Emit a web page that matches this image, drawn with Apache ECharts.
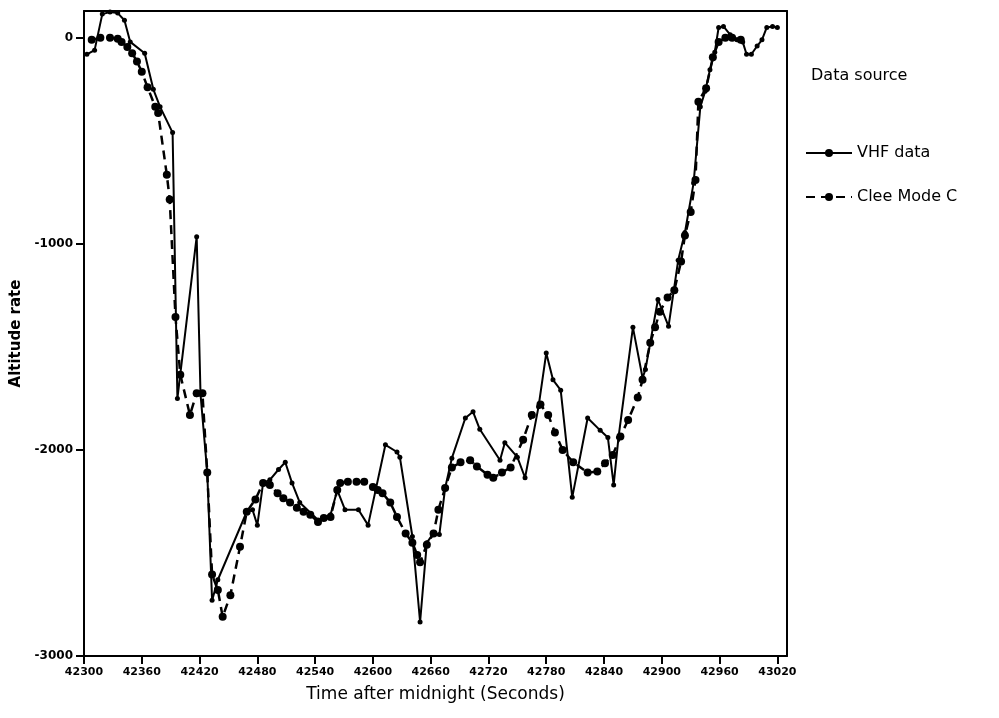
<!DOCTYPE html>
<html>
<head>
<meta charset="utf-8">
<script src="https://cdn.jsdelivr.net/npm/echarts@6/dist/echarts.min.js"></script>
<style>
html,body{margin:0;padding:0;background:#fff;}
#c{width:999px;height:718px;}
</style>
</head>
<body>
<div id="c"></div>
<script>
const xTicks = [42300,42360,42420,42480,42540,42600,42660,42720,42780,42840,42900,42960,43020];
const yTicks = [-3000,-2000,-1000,0];

const vhfTime = [42303,42311,42319,42327,42335,42342,42348,42363,42372,42379,42392,42397,42417,42421,42428,42433,42439,42469,42475,42480,42486,42493,42502,42509,42516,42524,42543,42556,42563,42571,42585,42595,42613,42625,42628,42641,42649,42656,42663,42669,42675,42682,42696,42704,42711,42732,42737,42750,42758,42772,42780,42787,42795,42807,42823,42836,42844,42850,42855,42870,42880,42883,42896,42907,42917,42924,42933,42940,42945,42950,42955,42959,42964,42971,42978,42984,42988,42993,42999,43004,43009,43015,43020];
const vhfRate = [-80,-60,115,125,120,85,-20,-75,-250,-335,-460,-1750,-965,-1730,-2110,-2730,-2630,-2300,-2290,-2365,-2160,-2145,-2095,-2060,-2160,-2255,-2340,-2315,-2195,-2290,-2290,-2365,-1975,-2010,-2035,-2420,-2835,-2450,-2405,-2410,-2185,-2040,-1845,-1815,-1900,-2050,-1965,-2035,-2135,-1790,-1530,-1660,-1710,-2230,-1845,-1905,-1940,-2170,-1940,-1405,-1650,-1610,-1270,-1400,-1080,-945,-705,-335,-260,-155,-70,50,55,15,-10,-20,-80,-80,-40,-10,50,55,50];

const cleeTime = [42308,42317,42327,42335,42339,42345,42350,42355,42360,42366,42374,42377,42386,42389,42395,42400,42410,42417,42423,42428,42433,42439,42444,42452,42462,42469,42478,42486,42493,42501,42507,42514,42521,42528,42535,42543,42549,42556,42563,42566,42574,42583,42591,42600,42605,42610,42618,42625,42634,42641,42646,42649,42656,42663,42668,42675,42682,42691,42701,42708,42719,42725,42734,42743,42756,42765,42774,42782,42789,42797,42808,42823,42833,42841,42849,42857,42865,42875,42880,42888,42893,42898,42906,42913,42920,42924,42930,42935,42938,42946,42953,42959,42966,42973,42982];
const cleeRate = [-10,0,0,-5,-20,-45,-75,-115,-165,-240,-335,-365,-665,-785,-1355,-1635,-1830,-1725,-1725,-2110,-2605,-2680,-2810,-2705,-2470,-2300,-2240,-2160,-2170,-2210,-2235,-2255,-2280,-2300,-2315,-2350,-2330,-2325,-2195,-2160,-2155,-2155,-2155,-2180,-2195,-2210,-2255,-2325,-2405,-2450,-2510,-2545,-2460,-2405,-2290,-2185,-2085,-2060,-2050,-2080,-2120,-2135,-2110,-2085,-1950,-1830,-1780,-1830,-1915,-2000,-2060,-2110,-2105,-2065,-2025,-1935,-1855,-1745,-1660,-1480,-1405,-1330,-1260,-1225,-1085,-960,-845,-690,-310,-245,-95,-20,0,0,-10];

const vhfData = vhfTime.map((t,i)=>[t,vhfRate[i]]);
const cleeData = cleeTime.map((t,i)=>[t,cleeRate[i]]);

const font = 'DejaVu Sans';
const chart = echarts.init(document.getElementById('c'));
chart.setOption({
  animation:false,
  backgroundColor:'#fff',
  title:{text:'Data source',left:806,top:63,textStyle:{fontFamily:font,fontSize:16,fontWeight:'normal',color:'#000'}},
  legend:{
    orient:'vertical',left:800,top:140,itemGap:28,itemWidth:46,itemHeight:10,
    textStyle:{fontFamily:font,fontSize:16,color:'#000'},
    data:['VHF data','Clee Mode C']
  },
  grid:{left:84,right:212,top:11,bottom:62,show:false},
  xAxis:[{
    type:'value',position:'bottom',min:42300,max:43030,interval:60,
    name:'Time after midnight (Seconds)',nameLocation:'middle',nameGap:30,
    nameTextStyle:{fontFamily:font,fontSize:17,color:'#000'},
    axisLine:{show:true,onZero:false,lineStyle:{color:'#000',width:2}},
    axisTick:{show:true,length:8,lineStyle:{color:'#000',width:2}},
    axisLabel:{showMinLabel:true,showMaxLabel:false,formatter:v=>xTicks.includes(v)?String(v):'',fontFamily:font,fontWeight:'bold',fontSize:11,color:'#000',margin:11},
    splitLine:{show:false}
  },{
    type:'value',position:'top',min:42300,max:43030,
    axisLine:{show:true,onZero:false,lineStyle:{color:'#000',width:2}},
    axisTick:{show:false},axisLabel:{show:false},splitLine:{show:false}
  }],
  yAxis:[{
    type:'value',position:'left',min:-3000,max:130,interval:1000,
    name:'Altitude rate',nameLocation:'middle',nameGap:60,
    nameTextStyle:{fontFamily:font,fontSize:15,fontWeight:'bold',color:'#000'},
    axisLine:{show:true,onZero:false,lineStyle:{color:'#000',width:2}},
    axisTick:{show:true,length:8,lineStyle:{color:'#000',width:2}},
    axisLabel:{showMinLabel:true,showMaxLabel:false,formatter:v=>yTicks.includes(v)?String(v):'',fontFamily:font,fontWeight:'bold',fontSize:12,color:'#000',margin:11},
    splitLine:{show:false}
  },{
    type:'value',position:'right',min:-3000,max:130,
    axisLine:{show:true,onZero:false,lineStyle:{color:'#000',width:2}},
    axisTick:{show:false},axisLabel:{show:false},splitLine:{show:false}
  }],
  series:[
    {name:'VHF data',type:'line',data:vhfData,symbol:'circle',symbolSize:5,
     itemStyle:{color:'#000'},lineStyle:{color:'#000',width:2}},
    {name:'Clee Mode C',type:'line',data:cleeData,symbol:'circle',symbolSize:8,
     itemStyle:{color:'#000'},lineStyle:{color:'#000',width:2.5,type:[9,6]}}
  ]
});
</script>
</body>
</html>
